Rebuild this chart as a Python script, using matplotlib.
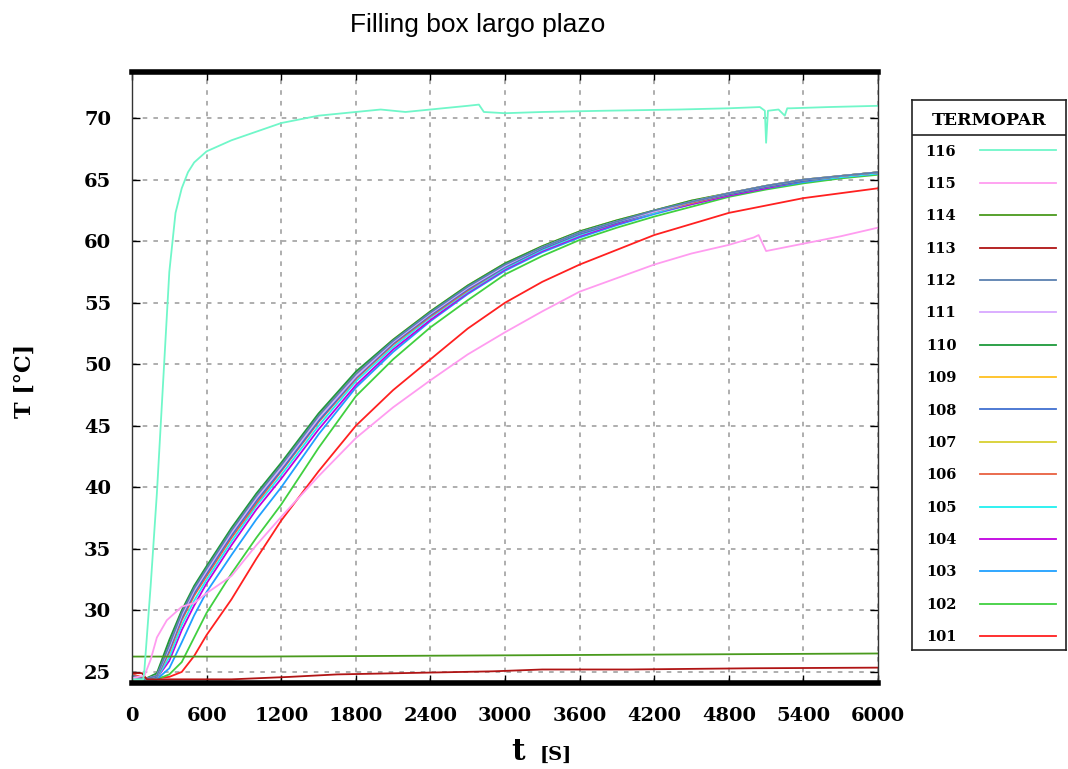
import numpy as np
import matplotlib
matplotlib.use("Agg")
import matplotlib.pyplot as plt
from matplotlib.lines import Line2D

# shared time grid for the main group of thermocouples
t = [0, 100, 200, 300, 400, 500, 600, 800, 1000, 1200, 1500, 1800, 2100, 2400,
     2700, 3000, 3300, 3600, 3900, 4200, 4500, 4800, 5100, 5400, 5700, 6000]

T110 = [24.6, 24.4, 24.9, 27.6, 30.0, 32.0, 33.6, 36.7, 39.5, 42.0, 46.0, 49.4, 52.0, 54.3,
        56.4, 58.2, 59.6, 60.8, 61.7, 62.5, 63.3, 63.9, 64.5, 65.0, 65.3, 65.6]
T109 = [24.5, 24.4, 24.8, 27.4, 29.9, 31.9, 33.5, 36.6, 39.4, 41.9, 45.9, 49.3, 52.0, 54.3,
        56.4, 58.2, 59.6, 60.8, 61.7, 62.5, 63.3, 63.9, 64.5, 65.0, 65.3, 65.6]
T112 = [24.6, 24.4, 24.7, 27.2, 29.8, 31.8, 33.4, 36.5, 39.3, 41.8, 45.8, 49.2, 51.9, 54.2,
        56.3, 58.1, 59.5, 60.7, 61.6, 62.5, 63.2, 63.9, 64.5, 65.0, 65.3, 65.6]
T111 = [24.5, 24.4, 24.7, 27.0, 29.6, 31.6, 33.2, 36.3, 39.1, 41.6, 45.6, 49.0, 51.8, 54.1,
        56.2, 58.0, 59.5, 60.7, 61.6, 62.4, 63.2, 63.9, 64.5, 65.0, 65.3, 65.6]
T108 = [24.7, 24.4, 24.6, 26.8, 29.4, 31.4, 33.0, 36.1, 38.9, 41.4, 45.4, 48.9, 51.7, 54.0,
        56.1, 57.9, 59.4, 60.6, 61.5, 62.4, 63.2, 63.8, 64.4, 64.9, 65.3, 65.6]
T107 = [24.5, 24.4, 24.6, 26.9, 29.5, 31.5, 33.1, 36.2, 39.0, 41.5, 45.5, 49.0, 51.8, 54.1,
        56.2, 58.0, 59.5, 60.7, 61.6, 62.4, 63.2, 63.9, 64.5, 65.0, 65.3, 65.6]
T106 = [24.8, 24.5, 24.6, 26.6, 29.2, 31.2, 32.8, 35.9, 38.7, 41.3, 45.3, 48.8, 51.6, 53.9,
        56.0, 57.9, 59.4, 60.6, 61.5, 62.4, 63.1, 63.8, 64.4, 64.9, 65.3, 65.6]
T105 = [24.5, 24.4, 24.5, 26.2, 28.8, 30.8, 32.5, 35.6, 38.5, 41.0, 45.0, 48.6, 51.4, 53.8,
        55.9, 57.8, 59.3, 60.5, 61.5, 62.3, 63.1, 63.8, 64.4, 64.9, 65.2, 65.5]
T104 = [24.6, 24.4, 24.5, 25.9, 28.4, 30.4, 32.2, 35.3, 38.2, 40.7, 44.7, 48.3, 51.2, 53.6,
        55.8, 57.7, 59.2, 60.4, 61.4, 62.3, 63.0, 63.7, 64.3, 64.9, 65.2, 65.5]
T103 = [24.5, 24.4, 24.4, 25.3, 27.4, 29.6, 31.5, 34.5, 37.4, 40.0, 44.3, 48.1, 51.0, 53.5,
        55.7, 57.6, 59.1, 60.3, 61.3, 62.2, 63.0, 63.7, 64.3, 64.8, 65.2, 65.5]
T102 = [24.4, 24.4, 24.4, 24.8, 25.8, 27.8, 29.8, 33.0, 35.9, 38.6, 43.2, 47.4, 50.4, 53.0,
        55.2, 57.3, 58.8, 60.1, 61.1, 62.0, 62.8, 63.6, 64.2, 64.7, 65.1, 65.4]
T101 = [24.8, 24.5, 24.5, 24.6, 25.0, 26.3, 28.0, 30.9, 34.2, 37.3, 41.3, 45.0, 47.9, 50.4,
        52.9, 55.0, 56.7, 58.1, 59.3, 60.5, 61.4, 62.3, 62.9, 63.5, 63.9, 64.3]

t115 = [0, 100, 150, 200, 280, 400, 500, 600, 800, 1000, 1200, 1500, 1800, 2100, 2400,
        2700, 3000, 3300, 3600, 3900, 4200, 4500, 4800, 5000, 5040, 5100, 5400, 5700, 6000]
T115 = [24.5, 24.7, 26.0, 27.8, 29.2, 30.3, 30.6, 31.4, 32.8, 35.3, 37.6, 40.9, 44.0, 46.5, 48.7,
        50.8, 52.6, 54.3, 55.9, 57.0, 58.1, 59.0, 59.7, 60.3, 60.5, 59.2, 59.8, 60.4, 61.1]

t116 = [0, 90, 100, 150, 200, 250, 300, 350, 400, 450, 500, 600, 800, 1000, 1200, 1500,
        1800, 2000, 2200, 2400, 2700, 2790, 2830, 3000, 3300, 3800, 4400, 4800, 5050, 5090,
        5100, 5115, 5200, 5250, 5270, 5300, 5600, 6000]
T116 = [24.4, 24.4, 25.2, 32.0, 39.5, 48.5, 57.5, 62.3, 64.3, 65.6, 66.4, 67.3, 68.2, 68.9, 69.6, 70.2,
        70.5, 70.7, 70.5, 70.7, 71.0, 71.1, 70.5, 70.4, 70.5, 70.6, 70.7, 70.8, 70.9, 70.6,
        68.0, 70.6, 70.7, 70.2, 70.8, 70.8, 70.9, 71.0]

t114 = [0, 1000, 2000, 3000, 4000, 5000, 6000]
T114 = [26.25, 26.25, 26.3, 26.35, 26.4, 26.45, 26.5]

t113 = [0, 80, 120, 800, 1270, 1650, 2400, 2900, 3300, 4000, 5000, 6000]
T113 = [24.9, 24.9, 24.4, 24.4, 24.6, 24.8, 24.95, 25.05, 25.2, 25.2, 25.3, 25.35]

series = [
    ("116", t116, T116, "#70f7c9"),
    ("115", t115, T115, "#ff9cf0"),
    ("114", t114, T114, "#4a9a1e"),
    ("113", t113, T113, "#b01414"),
    ("112", t, T112, "#5a80b0"),
    ("111", t, T111, "#d8a8ff"),
    ("110", t, T110, "#1e9a3c"),
    ("109", t, T109, "#ffc020"),
    ("108", t, T108, "#4070d0"),
    ("107", t, T107, "#d8d030"),
    ("106", t, T106, "#e86040"),
    ("105", t, T105, "#20f0f0"),
    ("104", t, T104, "#c000e0"),
    ("103", t, T103, "#20a0ff"),
    ("102", t, T102, "#40d040"),
    ("101", t, T101, "#ff2020"),
]

fig = plt.figure(figsize=(10.68, 7.69), dpi=100)
ax = fig.add_axes([0.1236, 0.1118, 0.6985, 0.7946])

for name, tt, vv, col in reversed(series):
    ax.plot(tt, vv, color=col, lw=1.3)
handles = [Line2D([], [], color=c, lw=1.3) for _, _, _, c in series]
labels = [s[0] for s in series]

ax.set_xlim(0, 6000)
ax.set_ylim(24.1, 73.75)
ax.set_xticks(np.arange(0, 6001, 600))
ax.set_yticks(np.arange(25, 71, 5))
ax.grid(True, color="#999999", linestyle=(0, (3, 4)), lw=1.1)
ax.tick_params(direction="in", top=True, right=True, length=6, width=1,
               labelsize=14)
ax.tick_params(axis="x", pad=17)
ax.tick_params(axis="y", pad=15)
for lab in ax.get_xticklabels() + ax.get_yticklabels():
    lab.set_fontfamily("DejaVu Serif")
    lab.set_fontweight("bold")
for s in ["top", "bottom"]:
    ax.spines[s].set_linewidth(4)
    ax.spines[s].set_color("black")
for s in ["left", "right"]:
    ax.spines[s].set_linewidth(1)
    ax.spines[s].set_color("#333333")

fig.text(0.4476, 0.967, "Filling box largo plazo", ha="center", va="center",
         fontsize=19, family="Liberation Sans")
fig.text(0.0234, 0.505, "T [°C]", rotation=90, ha="center", va="center",
         fontsize=16, family="DejaVu Serif", fontweight="bold")
fig.text(0.479, 0.0117, "t", ha="left", va="baseline", fontsize=21,
         family="DejaVu Serif", fontweight="bold")
fig.text(0.505, 0.0117, "[S]", ha="left", va="baseline", fontsize=14,
         family="DejaVu Serif", fontweight="bold")

# legend box
lax = fig.add_axes([0.854, 0.1547, 0.144, 0.715])
lax.set_xlim(0, 1)
lax.set_ylim(0, 1)
lax.set_xticks([])
lax.set_yticks([])
for s in lax.spines.values():
    s.set_linewidth(1.2)
    s.set_color("#222222")
lax.axhline(0.936, color="#222222", lw=1.2)
lax.text(0.5, 0.9636, "TERMOPAR", ha="center", va="center", fontsize=12.5,
         family="DejaVu Serif", fontweight="bold")
leg = lax.legend(handles, labels, loc="upper left", bbox_to_anchor=(0.05, 0.93),
                 frameon=False, markerfirst=False, handlelength=5.2,
                 handletextpad=1.6, labelspacing=1.26, borderaxespad=0,
                 prop={"family": "DejaVu Serif", "weight": "bold", "size": 10.5})

fig.savefig("out.png", dpi=100)
